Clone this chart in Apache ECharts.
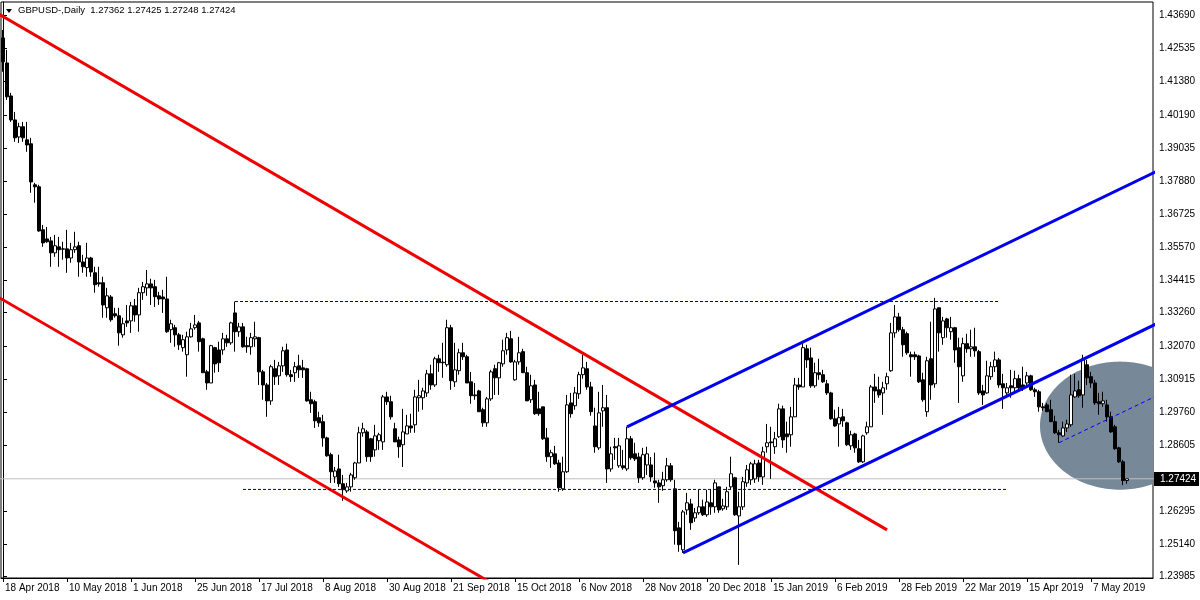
<!DOCTYPE html>
<html><head><meta charset="utf-8">
<script src="https://cdn.jsdelivr.net/npm/echarts@6/dist/echarts.min.js"></script>
<style>html,body{margin:0;padding:0;background:#fff;}#c{width:1200px;height:600px;}</style>
</head><body><div id="c"></div><script>
const symbolTitle = 'GBPUSD-,Daily';
const dateLabels = ['18 Apr 2018','10 May 2018','1 Jun 2018','25 Jun 2018','17 Jul 2018','8 Aug 2018','30 Aug 2018','21 Sep 2018','15 Oct 2018','6 Nov 2018','28 Nov 2018','20 Dec 2018','15 Jan 2019','6 Feb 2019','28 Feb 2019','22 Mar 2019','15 Apr 2019','7 May 2019'];
const yTickLabels = ['1.43690','1.42535','1.41380','1.40190','1.39035','1.37880','1.36725','1.35570','1.34415','1.33260','1.32070','1.30915','1.29760','1.28605','1.26295','1.25140','1.23985'];
const opens = [1.4291,1.4203,1.4087,1.4003,1.3943,1.3979,1.3933,1.3919,1.3775,1.3768,
1.3617,1.3585,1.3578,1.3536,1.3557,1.3550,1.3550,1.3518,1.3547,1.3561,
1.3504,1.3484,1.3518,1.3466,1.3431,1.3431,1.3343,1.3381,1.3322,1.3315,
1.3248,1.3297,1.3297,1.3350,1.3318,1.3396,1.3413,1.3427,1.3417,1.3385,
1.3381,1.3374,1.3266,1.3273,1.3248,1.3203,1.3178,1.3241,1.3273,1.3290,
1.3234,1.3118,1.3079,1.3203,1.3195,1.3195,1.3234,1.3220,1.3325,1.3259,
1.3276,1.3210,1.3206,1.3234,1.3238,1.3118,1.3072,1.3016,1.3129,1.3104,
1.3139,1.3195,1.3108,1.3115,1.3139,1.3132,1.3129,1.3020,1.3013,1.2957,
1.2943,1.2886,1.2827,1.2749,1.2777,1.2725,1.2700,1.2714,1.2746,1.2798,
1.2904,1.2907,1.2883,1.2844,1.2876,1.2872,1.3030,1.3013,1.2918,1.2879,
1.2862,1.2900,1.2928,1.2932,1.3027,1.3027,1.3044,1.3111,1.3072,1.3164,
1.3152,1.3143,1.3273,1.3083,1.3122,1.3185,1.3171,1.3083,1.3037,1.3051,
1.2985,1.2939,1.3023,1.3129,1.3097,1.3146,1.3195,1.3234,1.3090,1.3153,
1.3189,1.3115,1.3020,1.3072,1.2988,1.2995,1.2886,1.2820,1.2830,1.2798,
1.2707,1.2767,1.3009,1.2999,1.3041,1.3108,1.3129,1.3065,1.2928,1.2851,
1.2981,1.2992,1.2777,1.2855,1.2788,1.2788,1.2777,1.2883,1.2830,1.2819,
1.2746,1.2791,1.2791,1.2735,1.2728,1.2718,1.2739,1.2788,1.2707,1.2570,
1.2493,1.2633,1.2654,1.2605,1.2623,1.2644,1.2616,1.2658,1.2644,1.2714,
1.2637,1.2644,1.2714,1.2746,1.2612,1.2644,1.2728,1.2739,1.2742,1.2798,
1.2749,1.2855,1.2872,1.2855,1.2890,1.2988,1.2900,1.2897,1.2960,1.3072,
1.3065,1.3199,1.3167,1.3069,1.3115,1.3108,1.3076,1.3044,1.2953,1.2935,
1.2960,1.2939,1.2858,1.2900,1.2848,1.2802,1.2904,1.2925,1.3065,1.3055,
1.3044,1.3076,1.3122,1.3255,1.3311,1.3266,1.3252,1.3178,1.3178,1.3174,
1.3090,1.2978,1.3164,1.3076,1.3343,1.3238,1.3304,1.3259,1.3273,1.3203,
1.3104,1.3217,1.3199,1.3206,1.3189,1.3051,1.3044,1.3101,1.3136,1.3160,
1.3076,1.3044,1.3069,1.3062,1.3094,1.3072,1.3079,1.3104,1.3055,1.3048,
1.2995,1.3002,1.2985,1.2943,1.2904,1.2893,1.2921,1.2932,1.3030,1.3055,
1.3037,1.3143,1.3101,1.3079,1.3013,1.3006,1.3002,1.2960,1.2925,1.2851,
1.2802,1.27362];
const closes = [1.4207,1.4084,1.4003,1.3940,1.3979,1.3940,1.3915,1.3785,1.3768,1.3613,
1.3571,1.3575,1.3536,1.3561,1.3547,1.3549,1.3518,1.3547,1.3557,1.3504,
1.3487,1.3518,1.3469,1.3424,1.3427,1.3353,1.3385,1.3301,1.3315,1.3255,
1.3287,1.3290,1.3350,1.3318,1.3396,1.3417,1.3427,1.3413,1.3382,1.3374,
1.3374,1.3259,1.3287,1.3248,1.3213,1.3231,1.3241,1.3269,1.3283,1.3224,
1.3115,1.3079,1.3210,1.3146,1.3150,1.3234,1.3220,1.3290,1.3259,1.3276,
1.3206,1.3206,1.3238,1.3241,1.3118,1.3072,1.3016,1.3136,1.3101,1.3139,
1.3192,1.3108,1.3101,1.3136,1.3125,1.3125,1.3016,1.3006,1.2946,1.2939,
1.2886,1.2823,1.2767,1.2770,1.2725,1.2704,1.2714,1.2756,1.2798,1.2904,
1.2918,1.2820,1.2820,1.2893,1.2897,1.3030,1.3013,1.2960,1.2872,1.2855,
1.2907,1.2928,1.2921,1.3030,1.3034,1.3051,1.3111,1.3072,1.3164,1.3150,
1.3150,1.3273,1.3087,1.3125,1.3185,1.3171,1.3079,1.3034,1.3034,1.2978,
1.2939,1.3023,1.3118,1.3097,1.3150,1.3192,1.3238,1.3153,1.3153,1.3185,
1.3115,1.3016,1.3069,1.2971,1.2971,1.2883,1.2820,1.2834,1.2795,1.2711,
1.2767,1.3002,1.2971,1.3044,1.3108,1.3132,1.3065,1.2978,1.2855,1.2974,
1.2992,1.2777,1.2830,1.2851,1.2858,1.2781,1.2883,1.2816,1.2812,1.2746,
1.2827,1.2830,1.2749,1.2728,1.2714,1.2739,1.2788,1.2739,1.2560,1.2511,
1.2626,1.2658,1.2588,1.2623,1.2644,1.2616,1.2661,1.2644,1.2728,1.2633,
1.2647,1.2697,1.2760,1.2616,1.2644,1.2732,1.2774,1.2795,1.2795,1.2749,
1.2837,1.2869,1.2869,1.2883,1.2988,1.2879,1.2890,1.2960,1.3072,1.3065,
1.3203,1.3160,1.3069,1.3115,1.3108,1.3083,1.3044,1.2953,1.2928,1.2957,
1.2946,1.2862,1.2897,1.2851,1.2802,1.2893,1.2925,1.3065,1.3051,1.3037,
1.3062,1.3101,1.3255,1.3311,1.3266,1.3213,1.3185,1.3171,1.3171,1.3083,
1.3020,1.3157,1.3072,1.3339,1.3255,1.3297,1.3273,1.3273,1.3195,1.3136,
1.3217,1.3199,1.3206,1.3192,1.3044,1.3037,1.3104,1.3136,1.3160,1.3072,
1.3062,1.3062,1.3062,1.3094,1.3062,1.3062,1.3104,1.3055,1.3048,1.2995,
1.2992,1.2978,1.2943,1.2904,1.2897,1.2921,1.2935,1.3037,1.3051,1.3034,
1.3164,1.3097,1.3079,1.3009,1.3006,1.3016,1.2960,1.2907,1.2848,1.2802,
1.2736,1.27424];
const lows = [1.4172,1.4073,1.3996,1.3926,1.3922,1.3926,1.3891,1.3747,1.3712,1.3610,
1.3557,1.3571,1.3487,1.3522,1.3487,1.3512,1.3466,1.3501,1.3536,1.3452,
1.3466,1.3452,1.3452,1.3396,1.3417,1.3308,1.3308,1.3294,1.3308,1.3210,
1.3238,1.3276,1.3255,1.3294,1.3259,1.3371,1.3385,1.3353,1.3346,1.3353,
1.3325,1.3255,1.3220,1.3206,1.3195,1.3189,1.3101,1.3238,1.3266,1.3189,
1.3115,1.3055,1.3079,1.3115,1.3118,1.3178,1.3206,1.3213,1.3189,1.3241,
1.3203,1.3185,1.3178,1.3206,1.3072,1.3020,1.2960,1.3002,1.3072,1.3072,
1.3118,1.3101,1.3083,1.3083,1.3097,1.3097,1.3013,1.2974,1.2921,1.2925,
1.2855,1.2820,1.2728,1.2728,1.2714,1.2665,1.2693,1.2697,1.2739,1.2798,
1.2890,1.2802,1.2802,1.2820,1.2844,1.2844,1.3002,1.2950,1.2872,1.2816,
1.2784,1.2900,1.2904,1.2904,1.2978,1.2985,1.3030,1.3055,1.3065,1.3118,
1.3097,1.3136,1.3055,1.3065,1.3108,1.3160,1.3079,1.3006,1.3020,1.2978,
1.2925,1.2925,1.3016,1.3037,1.3037,1.3136,1.3178,1.3150,1.3087,1.3143,
1.3115,1.3016,1.3009,1.2967,1.2964,1.2879,1.2802,1.2781,1.2791,1.2697,
1.2700,1.2763,1.2957,1.2985,1.3023,1.3094,1.3055,1.2964,1.2834,1.2844,
1.2925,1.2728,1.2767,1.2809,1.2781,1.2774,1.2770,1.2809,1.2805,1.2728,
1.2739,1.2756,1.2732,1.2711,1.2658,1.2700,1.2732,1.2732,1.2511,1.2486,
1.2482,1.2616,1.2563,1.2591,1.2616,1.2612,1.2609,1.2616,1.2623,1.2623,
1.2630,1.2633,1.2704,1.2612,1.2440,1.2633,1.2714,1.2721,1.2728,1.2732,
1.2721,1.2834,1.2742,1.2830,1.2886,1.2851,1.2834,1.2855,1.2960,1.3055,
1.3065,1.3132,1.3062,1.3062,1.3090,1.3079,1.3037,1.2950,1.2925,1.2855,
1.2925,1.2858,1.2844,1.2834,1.2798,1.2798,1.2897,1.2925,1.3009,1.3027,
1.2967,1.3055,1.3118,1.3238,1.3259,1.3171,1.3178,1.3101,1.3160,1.3079,
1.3013,1.2960,1.3020,1.3062,1.3189,1.3213,1.3238,1.3231,1.3150,1.3009,
1.3083,1.3185,1.3171,1.3171,1.3037,1.3002,1.3041,1.3090,1.3118,1.3062,
1.2988,1.3027,1.3027,1.3051,1.3055,1.3051,1.3062,1.3051,1.3030,1.2978,
1.2981,1.2978,1.2943,1.2900,1.2869,1.2890,1.2907,1.2925,1.3027,1.3027,
1.2992,1.3072,1.3062,1.3002,1.2967,1.2995,1.2943,1.2904,1.2844,1.2798,
1.2720,1.27248];
const highs = [1.4319,1.4249,1.4098,1.4031,1.3993,1.3996,1.3996,1.3940,1.3782,1.3775,
1.3634,1.3627,1.3592,1.3599,1.3592,1.3575,1.3617,1.3571,1.3610,1.3575,
1.3529,1.3571,1.3522,1.3487,1.3487,1.3452,1.3413,1.3388,1.3343,1.3343,
1.3308,1.3353,1.3364,1.3374,1.3413,1.3434,1.3476,1.3445,1.3441,1.3399,
1.3406,1.3452,1.3301,1.3283,1.3255,1.3248,1.3259,1.3290,1.3318,1.3297,
1.3238,1.3125,1.3213,1.3206,1.3224,1.3255,1.3248,1.3294,1.3365,1.3290,
1.3290,1.3241,1.3255,1.3294,1.3241,1.3125,1.3079,1.3143,1.3160,1.3153,
1.3206,1.3217,1.3125,1.3153,1.3178,1.3160,1.3132,1.3048,1.3020,1.2978,
1.2967,1.2890,1.2834,1.2784,1.2827,1.2756,1.2728,1.2763,1.2802,1.2925,
1.2939,1.2914,1.2886,1.2932,1.2904,1.3037,1.3048,1.3034,1.2939,1.2890,
1.2988,1.2967,1.2971,1.3055,1.3090,1.3062,1.3125,1.3143,1.3171,1.3178,
1.3220,1.3301,1.3283,1.3220,1.3199,1.3220,1.3178,1.3118,1.3079,1.3055,
1.2992,1.3030,1.3125,1.3143,1.3153,1.3231,1.3255,1.3262,1.3160,1.3241,
1.3199,1.3136,1.3108,1.3090,1.3048,1.2995,1.2921,1.2844,1.2858,1.2809,
1.2820,1.3037,1.3044,1.3065,1.3118,1.3178,1.3153,1.3083,1.2992,1.3048,
1.3072,1.3037,1.2855,1.2886,1.2886,1.2844,1.2925,1.2893,1.2869,1.2834,
1.2851,1.2855,1.2819,1.2834,1.2739,1.2767,1.2816,1.2798,1.2739,1.2591,
1.2633,1.2693,1.2672,1.2640,1.2704,1.2669,1.2704,1.2704,1.2739,1.2714,
1.2672,1.2714,1.2820,1.2749,1.2697,1.2749,1.2791,1.2802,1.2809,1.2809,
1.2855,1.2935,1.2925,1.2907,1.3006,1.2999,1.2943,1.2995,1.3097,1.3097,
1.3220,1.3213,1.3203,1.3150,1.3164,1.3125,1.3090,1.3048,1.2985,1.2995,
1.2988,1.2943,1.2911,1.2904,1.2879,1.2897,1.2943,1.3072,1.3111,1.3101,
1.3083,1.3115,1.3290,1.3353,1.3325,1.3276,1.3259,1.3189,1.3189,1.3178,
1.3115,1.3171,1.3294,1.3378,1.3343,1.3311,1.3308,1.3311,1.3276,1.3238,
1.3238,1.3252,1.3266,1.3273,1.3195,1.3072,1.3157,1.3153,1.3189,1.3167,
1.3111,1.3079,1.3125,1.3122,1.3108,1.3136,1.3118,1.3108,1.3062,1.3055,
1.3009,1.3009,1.3020,1.2964,1.2914,1.2943,1.2950,1.3108,1.3111,1.3087,
1.3178,1.3160,1.3118,1.3090,1.3044,1.3048,1.3020,1.2978,1.2932,1.2855,
1.2809,1.27425];
const lastPrice = 1.27424;
// chart objects, anchored in (bar index, price)
const redUpper = [[-1, 1.4374], [221, 1.2563]];
const redLower = [[-1, 1.3379], [130, 1.2312]];
const blueUpper = [[156, 1.2925], [300, 1.3901]];
const blueLower = [[170, 1.2482], [300, 1.3366]];
const blueDashed = [[264, 1.2869], [300, 1.3112]];
const topDash = [[58, 1.3365], [249, 1.3365]];
const bottomDash = [[60, 1.2705], [251, 1.2705]];
const ellipseObj = [279.25, 1.2929, 20, 0.0225]; // center bar, center price, x-radius (bars), y-radius (price)

const TOTAL_SLOTS = 288;
const cats = Array.from({length: TOTAL_SLOTS}, (_, i) => String(i));
const candleData = opens.map((o, i) => [o, closes[i], lows[i], highs[i]]);
const yVals = yTickLabels.map(Number);
const n = opens.length - 1;
const titleText = symbolTitle + '  ' + [opens[n], highs[n], lows[n], closes[n]].map(v => v.toFixed(5)).join(' ');
const FONT = '"Liberation Sans", Arial, sans-serif';

function trend(data, color, width, type) {
  return {type: 'line', xAxisIndex: 1, yAxisIndex: 0, data: data, symbol: 'none', silent: true, z: 5,
    clip: true, lineStyle: {color: color, width: width, type: type}, animation: false};
}

const chart = echarts.init(document.getElementById('c'), null, {renderer: 'canvas'});
chart.setOption({
  animation: false,
  backgroundColor: '#fff',
  grid: {left: 1, top: 2, right: 47, bottom: 22, show: true, borderColor: '#000', borderWidth: 1, backgroundColor: '#fff'},
  xAxis: [
    {type: 'category', data: cats, boundaryGap: true, position: 'bottom',
      axisLine: {show: true, lineStyle: {color: '#000', width: 1}},
      axisTick: {show: true, interval: 15, alignWithLabel: true, length: 4, lineStyle: {color: '#000'}},
      axisLabel: {interval: 15, align: 'left', color: '#000', fontSize: 10, fontFamily: FONT, margin: 5, padding: [0, 0, 0, 2],
        formatter: function (v, idx) { return dateLabels[idx / 16] || ''; }},
      splitLine: {show: false}},
    {type: 'value', min: -0.5, max: TOTAL_SLOTS - 0.5, show: false}
  ],
  yAxis: {type: 'value', position: 'right', min: 1.23939, max: 1.44171,
    axisLine: {show: true, lineStyle: {color: '#000'}},
    axisTick: {show: true, length: 4, customValues: yVals, lineStyle: {color: '#000'}},
    axisLabel: {customValues: yVals, color: '#000', fontSize: 10, fontFamily: FONT, margin: 6,
      formatter: function (v) { return Number(v).toFixed(5); }},
    splitLine: {show: false}},
  graphic: [
    {type: 'polygon', shape: {points: [[6, 9], [12, 9], [9, 13]]}, style: {fill: '#000'}, z: 100},
    {type: 'text', x: 18, y: 5, style: {text: titleText, fill: '#000', font: '9.5px ' + FONT, textVerticalAlign: 'top'}, z: 100}
  ],
  series: [
    {type: 'custom', xAxisIndex: 1, yAxisIndex: 0, silent: true, z: 1, data: [ellipseObj],
      encode: {x: 0, y: 1},
      renderItem: function (params, api) {
        const c = api.coord([api.value(0), api.value(1)]);
        const s = api.size([api.value(2), api.value(3)]);
        const cs = params.coordSys;
        const pts = [];
        for (let k = 0; k < 180; k++) {
          const a = k / 180 * Math.PI * 2;
          let x = c[0] + s[0] * Math.cos(a);
          let y = c[1] + s[1] * Math.sin(a);
          x = Math.min(Math.max(x, cs.x), cs.x + cs.width);
          y = Math.min(Math.max(y, cs.y), cs.y + cs.height);
          pts.push([x, y]);
        }
        return {type: 'polygon', shape: {points: pts}, style: {fill: '#778899'}};
      }},
    {type: 'line', xAxisIndex: 1, yAxisIndex: 0, data: [[-1, lastPrice], [300, lastPrice]], symbol: 'none', silent: true, z: 2,
      clip: true, lineStyle: {color: '#c0c0c0', width: 1}},
    {type: 'custom', xAxisIndex: 1, yAxisIndex: 0, silent: true, z: 20, clip: false,
      data: [[TOTAL_SLOTS - 0.5, lastPrice]], encode: {x: 0, y: 1},
      renderItem: function (params, api) {
        const p = api.coord([api.value(0), api.value(1)]);
        return {type: 'group', x: Math.round(p[0]) + 1, y: Math.round(p[1]), children: [
          {type: 'rect', shape: {x: 0, y: -7, width: 45, height: 14}, style: {fill: '#000'}},
          {type: 'text', style: {text: lastPrice.toFixed(5), x: 6, y: 0, fill: '#fff', font: '10px ' + FONT, textVerticalAlign: 'middle'}}
        ]};
      }},
    {type: 'candlestick', xAxisIndex: 0, yAxisIndex: 0, data: candleData, barWidth: 3, z: 3, silent: true,
      itemStyle: {color: '#ffffff', color0: '#000000', borderColor: '#000000', borderColor0: '#000000', borderWidth: 1}},
    trend(redUpper, '#ee0000', 3, 'solid'),
    trend(redLower, '#ee0000', 3, 'solid'),
    trend(blueUpper, '#0000ee', 3, 'solid'),
    trend(blueLower, '#0000ee', 3, 'solid'),
    trend(blueDashed, '#0000ff', 1, [4, 3]),
    trend(topDash, '#000080', 1, [3, 2]),
    trend(bottomDash, '#000080', 1, [3, 2])
  ]
});
</script></body></html>
